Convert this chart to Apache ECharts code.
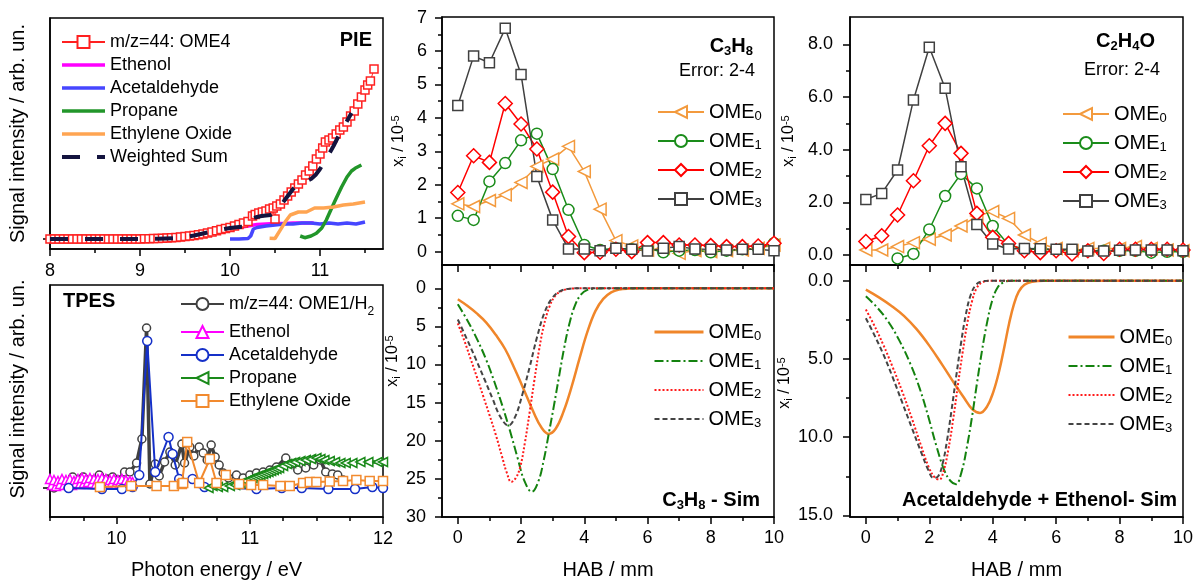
<!DOCTYPE html>
<html>
<head>
<meta charset="utf-8">
<script src="https://cdn.jsdelivr.net/npm/echarts@6/dist/echarts.min.js"></script>
<style>
  html, body { margin: 0; padding: 0; background: #fff; }
  #chart { width: 1196px; height: 582px; }
</style>
</head>
<body>
<div id="chart"></div>
<script>
// ---------- PIE: photoionisation efficiency curves (energy / eV, signal) ----------
const pieOME4 = [[8.00,0],[8.05,0],[8.10,0],[8.15,0],[8.20,0],[8.25,0],[8.30,0],[8.35,0],[8.40,0],[8.45,0],[8.50,0],[8.55,0],[8.60,0],[8.65,0],[8.70,0],[8.75,0],[8.80,0],[8.85,0],[8.90,0],[8.95,0],[9.00,0],[9.05,0.02],[9.10,0.03],[9.15,0.05],[9.20,0.06],[9.25,0.08],[9.30,0.1],[9.35,0.12],[9.40,0.15],[9.45,0.2],[9.50,0.25],[9.55,0.3],[9.60,0.36],[9.65,0.43],[9.70,0.5],[9.75,0.6],[9.80,0.7],[9.85,0.82],[9.90,0.95],[9.95,1.05],[10.00,1.15],[10.05,1.3],[10.10,1.45],[10.15,1.6],[10.20,1.75],[10.25,2.3],[10.28,2.45],[10.32,2.6],[10.36,2.7],[10.40,2.8],[10.44,3.0],[10.48,3.1],[10.50,2.0],[10.52,3.3],[10.56,3.5],[10.60,3.9],[10.64,4.3],[10.68,4.7],[10.72,5.1],[10.76,5.5],[10.80,5.9],[10.84,6.4],[10.88,6.8],[10.92,7.3],[10.96,8.0],[11.00,8.5],[11.03,9.1],[11.06,9.7],[11.10,9.9],[11.14,10.1],[11.18,10.5],[11.22,10.9],[11.26,11.2],[11.30,11.7],[11.34,12.3],[11.38,12.8],[11.42,13.5],[11.46,14.2],[11.50,14.9],[11.53,15.4],[11.56,15.8],[11.60,17.0]];
const pieEthenol = [[9.2,0.05],[9.4,0.12],[9.6,0.35],[9.8,0.7],[10.0,1.0],[10.1,1.15],[10.2,1.3],[10.3,1.45],[10.4,1.5],[10.5,1.55],[10.6,1.55],[10.7,1.6],[10.8,1.6],[10.93,1.6]];
const pieAcetaldehyde = [[10.0,0],[10.1,0],[10.2,0.05],[10.23,0.3],[10.26,1.0],[10.3,1.15],[10.4,1.3],[10.5,1.4],[10.6,1.5],[10.7,1.5],[10.8,1.6],[10.9,1.6],[11.0,1.5],[11.1,1.6],[11.2,1.5],[11.3,1.6],[11.4,1.5],[11.5,1.7]];
const piePropane = [[10.78,0.3],[10.83,0.13],[10.9,0.3],[10.96,0.57],[11.02,1.1],[11.07,1.9],[11.12,2.9],[11.18,4.07],[11.24,5.2],[11.3,6.2],[11.35,6.8],[11.39,7.07],[11.46,7.4]];
const pieEthyleneOxide = [[10.44,0.07],[10.5,0.05],[10.57,1.07],[10.62,1.8],[10.67,2.4],[10.76,2.7],[10.85,2.7],[10.94,3.1],[11.04,3.1],[11.15,3.2],[11.26,3.4],[11.37,3.5],[11.5,3.7]];
const pieWeightedSum = [[8.0,0],[8.5,0],[9.0,0],[9.2,0.02],[9.4,0.1],[9.5,0.2],[9.6,0.35],[9.7,0.55],[9.8,0.75],[9.9,0.95],[10.0,1.1],[10.1,1.2],[10.2,1.25],[10.23,1.5],[10.26,2.1],[10.3,2.2],[10.35,2.3],[10.4,2.35],[10.45,2.4],[10.5,2.7],[10.55,3.2],[10.6,3.8],[10.65,4.4],[10.7,5.0],[10.75,5.4],[10.8,5.6],[10.85,5.8],[10.9,6.0],[10.95,6.4],[11.0,7.0],[11.05,7.7],[11.1,8.5],[11.15,9.3],[11.2,10.2],[11.25,11.0],[11.3,11.8],[11.35,12.6]];

// ---------- TPES: threshold photoelectron spectra ----------
const tpesOME1 = [[9.53,0],[9.6,0.3],[9.67,1.1],[9.75,1.1],[9.81,0.8],[9.87,1.3],[9.93,0.9],[9.97,1.1],[10.01,0.8],[10.06,1.6],[10.1,1.6],[10.15,2.5],[10.19,4.9],[10.225,16.0],[10.25,0.4],[10.29,2.4],[10.32,1.2],[10.36,2.6],[10.4,3.6],[10.44,2.3],[10.49,4.4],[10.51,2.5],[10.55,4.1],[10.58,3.2],[10.62,4.1],[10.65,3.5],[10.68,2.8],[10.71,4.3],[10.74,3.1],[10.77,2.3],[10.8,1.5],[10.84,1.0],[10.9,1.3],[10.95,1.0],[11.0,1.3],[11.05,1.5],[11.1,1.6],[11.15,1.8],[11.2,2.1],[11.27,3.0],[11.31,2.4],[11.36,1.8],[11.42,2.0],[11.48,2.3],[11.53,2.8],[11.57,1.6],[11.62,1.4],[11.66,1.3],[11.7,0.8]];
const tpesEthenol = [[9.5,0.9],[9.515,0.3],[9.53,0.8],[9.545,0.2],[9.56,0.7],[9.575,0.4],[9.59,0.9],[9.605,0.3],[9.62,0.8],[9.635,0.4],[9.65,0.9],[9.665,0.3],[9.68,0.7],[9.695,0.5],[9.71,0.9],[9.725,0.4],[9.74,1.0],[9.755,0.5],[9.77,0.9],[9.785,0.6],[9.8,1.0],[9.815,0.5],[9.83,0.9],[9.845,0.4],[9.86,0.9],[9.875,0.5],[9.89,1.0],[9.905,0.5],[9.92,0.9],[9.935,0.4],[9.95,0.8],[9.965,0.5],[9.98,0.9],[9.995,0.4],[10.01,0.8],[10.025,0.5],[10.04,0.9],[10.055,0.4],[10.07,0.8],[10.085,0.5],[10.1,0.7],[10.12,0.6]];
const tpesAcetaldehyde = [[9.64,0],[9.89,-0.1],[10.04,-0.1],[10.12,0.1],[10.17,1.3],[10.23,14.7],[10.29,1.6],[10.39,5.1],[10.42,3.4],[10.47,0.9],[10.57,0.9],[10.62,0.5],[10.66,0.1],[11.05,-0.1],[11.24,0],[11.39,0],[11.59,-0.1],[11.79,-0.1],[11.92,0.1],[12.0,0]];
const tpesPropane = [[10.69,0],[10.72,0.2],[10.76,0.1],[10.8,0.1],[10.85,0.2],[10.89,0.3],[10.93,0.5],[10.97,0.7],[11.0,0.9],[11.02,1.0],[11.04,1.1],[11.06,1.2],[11.08,1.3],[11.1,1.4],[11.12,1.5],[11.14,1.6],[11.16,1.7],[11.18,1.8],[11.2,1.9],[11.22,2.0],[11.25,2.2],[11.28,2.4],[11.31,2.5],[11.34,2.6],[11.38,2.7],[11.42,2.8],[11.46,2.9],[11.5,3.0],[11.53,2.9],[11.56,2.8],[11.6,2.7],[11.64,2.6],[11.68,2.5],[11.72,2.5],[11.77,2.5],[11.83,2.6],[11.89,2.6],[11.96,2.6],[12.0,2.6]];
const tpesEthyleneOxide = [[9.875,0.1],[10.11,0.2],[10.3,0.2],[10.43,0.2],[10.49,0.4],[10.5,0.5],[10.53,4.6],[10.62,0.5],[10.7,2.9],[10.75,0.5],[10.82,1.3],[10.92,0.4],[11.01,0.3],[11.1,0.3],[11.23,0.2],[11.3,0.2],[11.4,0.5],[11.45,0.6],[11.5,0.6],[11.6,0.65],[11.7,0.7],[11.8,0.8],[11.9,0.7],[12.0,0.7]];

// ---------- C3H8 mole fraction (HAB / mm, x_i / 1e-5) ----------
const c3h8OME0 = [[0,1.43],[0.5,1.35],[1,1.53],[1.5,1.7],[2,2.07],[2.5,2.55],[3,2.77],[3.5,3.15],[4,2.4],[4.5,1.27],[5,0.33],[5.5,0.17],[6,0.05],[6.5,0.1],[7,-0.05],[7.5,0.03],[8,0],[8.5,0.03],[9,0.05],[9.5,0.1],[10,0.2]];
const c3h8OME1 = [[0,1.07],[0.5,0.95],[1,2.1],[1.5,2.65],[2,3.33],[2.5,3.53],[3,2.47],[3.5,1.25],[4,0.2],[4.5,0.05],[5,0.1],[5.5,0.07],[6,0.1],[6.5,-0.02],[7,0.03],[7.5,0.05],[8,-0.02],[8.5,0.03],[9,0.07],[9.5,0.1],[10,0.25]];
const c3h8OME2 = [[0,1.77],[0.5,2.87],[1,2.67],[1.5,4.43],[2,3.82],[2.5,3.07],[3,1.78],[3.5,0.45],[4,-0.03],[4.5,-0.02],[5,0.07],[5.5,0],[6,0.27],[6.5,0.27],[7,0.2],[7.5,0.2],[8,0.18],[8.5,0.15],[9,0.15],[9.5,0.17],[10,0.25]];
const c3h8OME3 = [[0,4.37],[0.5,5.85],[1,5.65],[1.5,6.68],[2,5.3],[2.5,2.25],[3,0.95],[3.5,0.08],[4,0.08],[4.5,0.03],[5,0.1],[5.5,0.07],[6,0.02],[6.5,0.1],[7,0.15],[7.5,0.08],[8,0.07],[8.5,0.05],[9,0.07],[9.5,0.07],[10,0.03]];

// ---------- C3H8 simulation ----------
const c3h8SimOME0 = [[0,1.45],[0.3,2.3],[0.6,3.3],[0.9,4.5],[1.2,6.1],[1.5,8.0],[1.8,10.6],[2.1,13.4],[2.4,16.3],[2.65,18.3],[2.87,19.1],[3.1,18.4],[3.35,16.1],[3.6,12.9],[3.85,9.2],[4.1,5.7],[4.35,3.0],[4.6,1.4],[4.85,0.55],[5.1,0.18],[5.4,0.04],[5.8,0],[8,0],[10,0]];
const c3h8SimOME1 = [[0,2.1],[0.3,4.2],[0.6,6.6],[0.9,9.4],[1.15,12.2],[1.4,15.3],[1.65,18.7],[1.9,22.4],[2.1,25.2],[2.34,26.7],[2.55,25.3],[2.72,22.5],[2.88,19.0],[3.04,15.4],[3.2,11.6],[3.36,7.9],[3.52,4.8],[3.7,2.3],[3.9,0.8],[4.1,0.22],[4.4,0.04],[4.8,0],[8,0],[10,0]];
const c3h8SimOME2 = [[0,4.6],[0.2,6.8],[0.4,9.2],[0.6,11.6],[0.8,14.1],[1.0,16.6],[1.2,19.2],[1.4,22.1],[1.55,24.2],[1.69,25.4],[1.83,24.9],[1.97,23.5],[2.12,20.3],[2.27,16.3],[2.42,12.1],[2.57,8.1],[2.72,4.9],[2.9,2.4],[3.1,0.9],[3.35,0.25],[3.6,0.05],[4,0],[8,0],[10,0]];
const c3h8SimOME3 = [[0,4.1],[0.28,6.6],[0.56,9.2],[0.84,11.9],[1.1,14.5],[1.35,16.9],[1.6,18.0],[1.82,16.8],[2.05,13.8],[2.28,10.2],[2.5,6.5],[2.75,3.1],[3.0,1.2],[3.25,0.35],[3.5,0.08],[3.8,0],[8,0],[10,0]];

// ---------- C2H4O mole fraction ----------
const c2h4oOME0 = [[0,0.19],[0.5,0.19],[1,0.32],[1.5,0.47],[2,0.6],[2.5,0.76],[3,1.1],[3.5,1.48],[4,1.65],[4.5,1.39],[5,0.76],[5.5,0.44],[6,0.25],[6.5,0.16],[7,0.25],[7.5,0.25],[8,0.25],[8.5,0.32],[9,0.25],[9.5,0.19],[10,0.16]];
const c2h4oOME1 = [[1,-0.13],[1.5,0.04],[2,0.97],[2.5,2.24],[3,3.08],[3.5,2.53],[4,1.1],[4.5,0.38],[5,0.22],[5.5,0.22],[6,0.19],[6.5,0.16],[7,0.16],[7.5,0.16],[8,0.16],[8.5,0.16],[9,0.09],[9.5,0.12],[10,0.12]];
const c2h4oOME2 = [[0,0.51],[0.5,0.73],[1,1.52],[1.5,2.82],[2,4.15],[2.5,5.0],[3,3.86],[3.5,1.58],[4,0.67],[4.5,0.44],[5,0.16],[5.5,0.09],[6,0.16],[6.5,0.04],[7,0.16],[7.5,0.06],[8,0.22],[8.5,0.22],[9,0.22],[9.5,0.22],[10,0.19]];
const c2h4oOME3 = [[0,2.11],[0.5,2.34],[1,3.23],[1.5,5.89],[2,7.89],[2.5,6.33],[3,3.35],[3.5,1.16],[4,0.42],[4.5,0.23],[5,0.25],[5.5,0.24],[6,0.22],[6.5,0.22],[7,0.15],[7.5,0.15],[8,0.18],[8.5,0.19],[9,0.19],[9.5,0.19],[10,0.16]];

// ---------- Acetaldehyde + Ethenol simulation ----------
const c2h4oSimOME0 = [[0,0.57],[0.4,1.05],[0.8,1.6],[1.2,2.25],[1.6,3.1],[2.0,4.15],[2.4,5.35],[2.8,6.6],[3.1,7.5],[3.35,8.2],[3.6,8.45],[3.82,8.05],[4.02,7.1],[4.2,5.8],[4.37,4.2],[4.52,2.7],[4.67,1.5],[4.82,0.7],[5.0,0.26],[5.25,0.07],[5.6,0],[8,0],[10,0]];
const c2h4oSimOME1 = [[0,1.0],[0.35,1.7],[0.7,2.6],[1.05,3.8],[1.4,5.3],[1.7,6.9],[1.97,8.7],[2.23,10.6],[2.47,12.1],[2.67,12.8],[2.84,13.0],[3.02,12.2],[3.18,10.7],[3.34,8.8],[3.5,6.6],[3.66,4.5],[3.82,2.7],[3.98,1.3],[4.15,0.45],[4.35,0.1],[4.6,0],[8,0],[10,0]];
const c2h4oSimOME2 = [[0,1.85],[0.25,2.8],[0.55,4.1],[0.85,5.55],[1.15,7.1],[1.45,8.8],[1.75,10.6],[1.98,11.9],[2.18,12.6],[2.32,12.7],[2.46,12.1],[2.6,10.8],[2.75,8.9],[2.9,6.7],[3.05,4.6],[3.2,2.7],[3.35,1.3],[3.5,0.45],[3.7,0.08],[4,0],[8,0],[10,0]];
const c2h4oSimOME3 = [[0,2.4],[0.25,3.4],[0.55,4.7],[0.85,6.2],[1.15,7.8],[1.45,9.4],[1.75,11.0],[1.97,12.1],[2.13,12.6],[2.28,12.5],[2.42,11.7],[2.56,10.2],[2.7,8.3],[2.85,6.1],[3.0,4.0],[3.15,2.2],[3.3,0.95],[3.48,0.25],[3.7,0.03],[4,0],[8,0],[10,0]];

// ---------- tick positions ----------
const pieTicks = [8, 9, 10, 11];
const pieMinor = [8.5, 9.5, 10.5, 11.5];
const tpesTicks = [10, 11, 12];
const tpesMinor = [9.5, 9.75, 10.25, 10.5, 10.75, 11.25, 11.5, 11.75];
const habTicks = [0, 2, 4, 6, 8, 10];
const habMinor = [1, 3, 5, 7, 9];
const c3h8Ticks = [0, 1, 2, 3, 4, 5, 6, 7];
const c3h8Minor = [0.5, 1.5, 2.5, 3.5, 4.5, 5.5, 6.5];
const c3h8SimTicks = [0, 5, 10, 15, 20, 25, 30];
const c3h8SimMinor = [2.5, 7.5, 12.5, 17.5, 22.5, 27.5];
const c2h4oTicks = [0, 2, 4, 6, 8];
const c2h4oMinor = [1, 3, 5, 7];
const c2h4oSimTicks = [0, 5, 10, 15];
const c2h4oSimMinor = [2.5, 7.5, 12.5];

// ---------- styling ----------
const FONT = 'Liberation Sans';
const ORANGE = '#f39a3d', GREEN = '#1a8c1a', RED = '#ff0000', GREY = '#404040';
const LEFT_TRI = 'path://M0,5L10,0L10,10Z';

const grids = [
  { left: 50,  top: 18,  width: 333, height: 231 },
  { left: 50,  top: 285, width: 333, height: 232 },
  { left: 442, top: 17,  width: 332, height: 248 },
  { left: 442, top: 265, width: 332, height: 252 },
  { left: 850, top: 17,  width: 333, height: 248 },
  { left: 850, top: 265, width: 333, height: 252 }
].map(g => Object.assign({ show: true, borderColor: '#000', borderWidth: 1.5,
  backgroundColor: 'transparent', containLabel: false, outerBoundsMode: 'none' }, g));

function axis(dim, gridIndex, min, max, o) {
  o = o || {};
  const a = {
    type: 'value', gridIndex, min, max, inverse: !!o.inverse,
    position: dim === 'x' ? 'bottom' : 'left',
    splitLine: { show: false },
    axisPointer: { show: false },
    axisLine: { show: !o.minor, onZero: false, lineStyle: { color: '#000', width: 1.5 } },
    axisTick: { show: !!(o.ticks && o.ticks.length), inside: false, length: o.minor ? 4 : 7,
      customValues: o.ticks, lineStyle: { color: '#000', width: 1.5 } },
    axisLabel: o.labels
      ? { show: true, customValues: o.labels, formatter: o.fmt, margin: o.margin,
          fontFamily: FONT, fontSize: 18, color: '#000' }
      : { show: false }
  };
  if (o.name) {
    a.name = o.name;
    a.nameLocation = 'middle';
    a.nameGap = o.nameGap;
    if (dim === 'y') a.nameRotate = 90;
    a.nameTextStyle = Object.assign({ fontFamily: FONT, fontSize: 20, color: '#000' }, o.nameStyle || {});
  }
  return a;
}

const xiRich = {
  n: { fontFamily: FONT, fontSize: 16, lineHeight: 18, color: '#000' },
  s: { fontFamily: FONT, fontSize: 11, lineHeight: 8, verticalAlign: 'bottom', color: '#000' },
  p: { fontFamily: FONT, fontSize: 11, lineHeight: 8, verticalAlign: 'top', color: '#000' }
};
const XI_NAME = '{n|x}{s|i}{n| / 10}{p|-5}';
const fix1 = v => v.toFixed(1);

const xAxes = [
  axis('x', 0, 8, 11.7, { labels: pieTicks, ticks: pieTicks, margin: 13 }),
  axis('x', 1, 9.5, 12, { labels: tpesTicks, ticks: tpesTicks, margin: 13, name: 'Photon energy / eV', nameGap: 43 }),
  axis('x', 2, -0.5, 10, { ticks: habTicks }),
  axis('x', 3, -0.5, 10, { labels: habTicks, ticks: habTicks, margin: 12, name: 'HAB / mm', nameGap: 43 }),
  axis('x', 4, -0.5, 10, { ticks: habTicks }),
  axis('x', 5, -0.5, 10, { labels: habTicks, ticks: habTicks, margin: 12, name: 'HAB / mm', nameGap: 43 }),
  // minor ticks
  axis('x', 0, 8, 11.7, { ticks: pieMinor, minor: true }),
  axis('x', 1, 9.5, 12, { ticks: tpesMinor, minor: true }),
  axis('x', 2, -0.5, 10, { ticks: habMinor, minor: true }),
  axis('x', 3, -0.5, 10, { ticks: habMinor, minor: true }),
  axis('x', 4, -0.5, 10, { ticks: habMinor, minor: true }),
  axis('x', 5, -0.5, 10, { ticks: habMinor, minor: true })
];

const yAxes = [
  axis('y', 0, -1, 22.1, { ticks: [0], name: 'Signal intensity / arb. un.', nameGap: 22 }),
  axis('y', 1, -2.9, 20.3, { ticks: [0], name: 'Signal intensity / arb. un.', nameGap: 22,
    nameStyle: { padding: [0, 0, 0, 24] } }),
  axis('y', 2, -0.4, 7.02, { labels: c3h8Ticks, ticks: c3h8Ticks, margin: 15, name: XI_NAME, nameGap: 34,
    nameStyle: { rich: xiRich } }),
  axis('y', 3, -3.05, 30, { inverse: true, labels: c3h8SimTicks, ticks: c3h8SimTicks, margin: 16, name: XI_NAME, nameGap: 34,
    nameStyle: { rich: xiRich, padding: [0, 0, 0, 60] } }),
  axis('y', 4, -0.38, 9.04, { labels: c2h4oTicks, ticks: c2h4oTicks, fmt: fix1, margin: 17, name: XI_NAME, nameGap: 52,
    nameStyle: { rich: xiRich } }),
  axis('y', 5, -1, 15.1, { inverse: true, labels: c2h4oSimTicks, ticks: c2h4oSimTicks, fmt: fix1, margin: 17, name: XI_NAME, nameGap: 42,
    nameStyle: { rich: xiRich, padding: [0, 0, 0, 16] } }),
  // minor ticks
  axis('y', 2, -0.4, 7.02, { ticks: c3h8Minor, minor: true }),
  axis('y', 3, -3.05, 30, { inverse: true, ticks: c3h8SimMinor, minor: true }),
  axis('y', 4, -0.38, 9.04, { ticks: c2h4oMinor, minor: true }),
  axis('y', 5, -1, 15.1, { inverse: true, ticks: c2h4oSimMinor, minor: true })
];

function plain(name, data, xi, color, width, dash, z) {
  return { type: 'line', name, data, xAxisIndex: xi, yAxisIndex: xi, symbol: 'none',
    lineStyle: { color, width, type: dash || 'solid' }, itemStyle: { color },
    emphasis: { disabled: true }, z: z || 2, clip: true };
}
function marked(name, data, xi, color, symbol, size, width, z) {
  return { type: 'line', name, data, xAxisIndex: xi, yAxisIndex: xi,
    symbol, symbolSize: size, showSymbol: true, showAllSymbol: true,
    itemStyle: { color: '#fff', borderColor: color, borderWidth: 1.5 },
    lineStyle: { color, width }, emphasis: { disabled: true }, z: z || 3, clip: true };
}
function sim(name, data, xi, color, dash, width) {
  const s = plain(name, data, xi, color, width, dash, 3);
  s.smooth = 0.4;
  return s;
}

const series = [
  // PIE
  plain('Ethenol', pieEthenol, 0, '#ff00ff', 3.5, null, 2),
  plain('Acetaldehyde', pieAcetaldehyde, 0, '#4646ff', 3.5, null, 2),
  plain('Propane', piePropane, 0, '#22962a', 3.5, null, 2),
  plain('Ethylene Oxide', pieEthyleneOxide, 0, '#ffa552', 3.5, null, 2),
  marked('m/z=44: OME4', pieOME4, 0, '#ff2020', 'rect', 8, 1, 3),
  plain('Weighted Sum', pieWeightedSum, 0, '#14143f', 4, [18, 17], 4),
  // TPES
  marked('m/z=44: OME1/H2', tpesOME1, 1, GREY, 'circle', 8, 3.5, 3),
  marked('Ethenol (TPES)', tpesEthenol, 1, '#ff00ff', 'triangle', 9, 3.5, 3),
  marked('Acetaldehyde (TPES)', tpesAcetaldehyde, 1, '#1530c8', 'circle', 9, 2, 4),
  marked('Propane (TPES)', tpesPropane, 1, '#1a8a1a', LEFT_TRI, 9, 3.5, 4),
  marked('Ethylene Oxide (TPES)', tpesEthyleneOxide, 1, '#f28a2e', 'rect', 9, 2, 5),
  // C3H8
  marked('OME0 (C3H8)', c3h8OME0, 2, ORANGE, LEFT_TRI, 12, 1.5),
  marked('OME1 (C3H8)', c3h8OME1, 2, GREEN, 'circle', 11, 1.5),
  marked('OME2 (C3H8)', c3h8OME2, 2, RED, 'diamond', 14, 1.5),
  marked('OME3 (C3H8)', c3h8OME3, 2, GREY, 'rect', 10, 1.5),
  // C3H8 simulation
  sim('OME0 (C3H8 sim)', c3h8SimOME0, 3, '#f0862a', 'solid', 2.5),
  sim('OME1 (C3H8 sim)', c3h8SimOME1, 3, '#14820f', [9, 3, 2, 3], 2),
  sim('OME2 (C3H8 sim)', c3h8SimOME2, 3, '#ff1a1a', [2, 2], 2),
  sim('OME3 (C3H8 sim)', c3h8SimOME3, 3, '#444', [5, 3], 2),
  // C2H4O
  marked('OME0 (C2H4O)', c2h4oOME0, 4, ORANGE, LEFT_TRI, 12, 1.5),
  marked('OME1 (C2H4O)', c2h4oOME1, 4, GREEN, 'circle', 11, 1.5),
  marked('OME2 (C2H4O)', c2h4oOME2, 4, RED, 'diamond', 14, 1.5),
  marked('OME3 (C2H4O)', c2h4oOME3, 4, GREY, 'rect', 10, 1.5),
  // Acetaldehyde + Ethenol simulation
  sim('OME0 (C2H4O sim)', c2h4oSimOME0, 5, '#f0862a', 'solid', 2.5),
  sim('OME1 (C2H4O sim)', c2h4oSimOME1, 5, '#14820f', [9, 3, 2, 3], 2),
  sim('OME2 (C2H4O sim)', c2h4oSimOME2, 5, '#ff1a1a', [2, 2], 2),
  sim('OME3 (C2H4O sim)', c2h4oSimOME3, 5, '#444', [5, 3], 2)
];

const legRich = {
  t: { fontFamily: FONT, fontSize: 18, lineHeight: 18, color: '#000' },
  f: { fontFamily: FONT, fontSize: 18, lineHeight: 28, color: '#000' },
  u: { fontFamily: FONT, fontSize: 12, lineHeight: 18, verticalAlign: 'bottom', color: '#000' },
  m: { fontFamily: FONT, fontSize: 20, lineHeight: 22, color: '#000' },
  s: { fontFamily: FONT, fontSize: 13, lineHeight: 10, verticalAlign: 'bottom', color: '#000' }
};
// line-only entries: keep the stroke at the given width, hide the marker
const lineOnly = w => n => ({ name: n, itemStyle: { opacity: 0 }, lineStyle: { width: w } });
function legend(items, left, top, w, gap, fmt) {
  return { orient: 'vertical', left, top, data: items, itemWidth: w, itemHeight: 15, itemGap: gap,
    selectedMode: false, formatter: fmt, padding: 0,
    textStyle: { fontFamily: FONT, fontSize: 18, color: '#000', rich: legRich } };
}
const omeFmt = n => '{m|OME}{s|' + n.charAt(3) + '}';
const legends = [
  legend(['m/z=44: OME4']
    .concat(['Ethenol', 'Acetaldehyde', 'Propane', 'Ethylene Oxide'].map(lineOnly(3.5)))
    .concat(['Weighted Sum'].map(lineOnly(4))),
    60, 33, 43, 5, n => '{t|' + n + '}'),
  legend(['m/z=44: OME1/H2', 'Ethenol (TPES)', 'Acetaldehyde (TPES)', 'Propane (TPES)', 'Ethylene Oxide (TPES)'],
    180, 295, 43, 5, n => n === 'm/z=44: OME1/H2' ? '{f|m/z=44: OME1/H}{u|2}' : '{t|' + n.replace(' (TPES)', '') + '}'),
  legend(['OME0 (C3H8)', 'OME1 (C3H8)', 'OME2 (C3H8)', 'OME3 (C3H8)'], 657, 102, 46, 8, omeFmt),
  legend([lineOnly(3)('OME0 (C3H8 sim)')].concat(['OME1 (C3H8 sim)', 'OME2 (C3H8 sim)', 'OME3 (C3H8 sim)'].map(lineOnly(2.2))),
    653, 322, 49, 8, omeFmt),
  legend(['OME0 (C2H4O)', 'OME1 (C2H4O)', 'OME2 (C2H4O)', 'OME3 (C2H4O)'], 1062, 104, 46, 8, omeFmt),
  legend([lineOnly(3)('OME0 (C2H4O sim)')].concat(['OME1 (C2H4O sim)', 'OME2 (C2H4O sim)', 'OME3 (C2H4O sim)'].map(lineOnly(2.2))),
    1067, 327, 46, 8, omeFmt)
];

const boldRich = {
  b: { fontFamily: FONT, fontWeight: 'bold', fontSize: 20, lineHeight: 24, fill: '#000', color: '#000' },
  s: { fontFamily: FONT, fontWeight: 'bold', fontSize: 13, lineHeight: 12, verticalAlign: 'bottom', fill: '#000', color: '#000' }
};
const BOLD = 'bold 20px "Liberation Sans"';
const REG = '18px "Liberation Sans"';
function label(x, y, text, align, font, rich) {
  const style = { text, align, verticalAlign: 'middle', fill: '#000' };
  if (rich) style.rich = rich; else style.font = font;
  return { type: 'text', x, y, silent: true, z: 10, style };
}
const labels = [
  label(372, 40, 'PIE', 'right', BOLD),
  label(63, 301, 'TPES', 'left', BOLD),
  label(753, 46, '{b|C}{s|3}{b|H}{s|8}', 'right', null, boldRich),
  label(755, 71, 'Error: 2-4', 'right', REG),
  label(1155, 41, '{b|C}{s|2}{b|H}{s|4}{b|O}', 'right', null, boldRich),
  label(1160, 70, 'Error: 2-4', 'right', REG),
  label(760, 500, '{b|C}{s|3}{b|H}{s|8}{b| - Sim}', 'right', null, boldRich),
  label(1177, 500, 'Acetaldehyde + Ethenol- Sim', 'right', BOLD)
];

const chart = echarts.init(document.getElementById('chart'), null, { renderer: 'canvas' });
chart.setOption({
  animation: false,
  backgroundColor: '#fff',
  textStyle: { fontFamily: FONT },
  grid: grids,
  xAxis: xAxes,
  yAxis: yAxes,
  legend: legends,
  series,
  graphic: labels
});
</script>
</body>
</html>
